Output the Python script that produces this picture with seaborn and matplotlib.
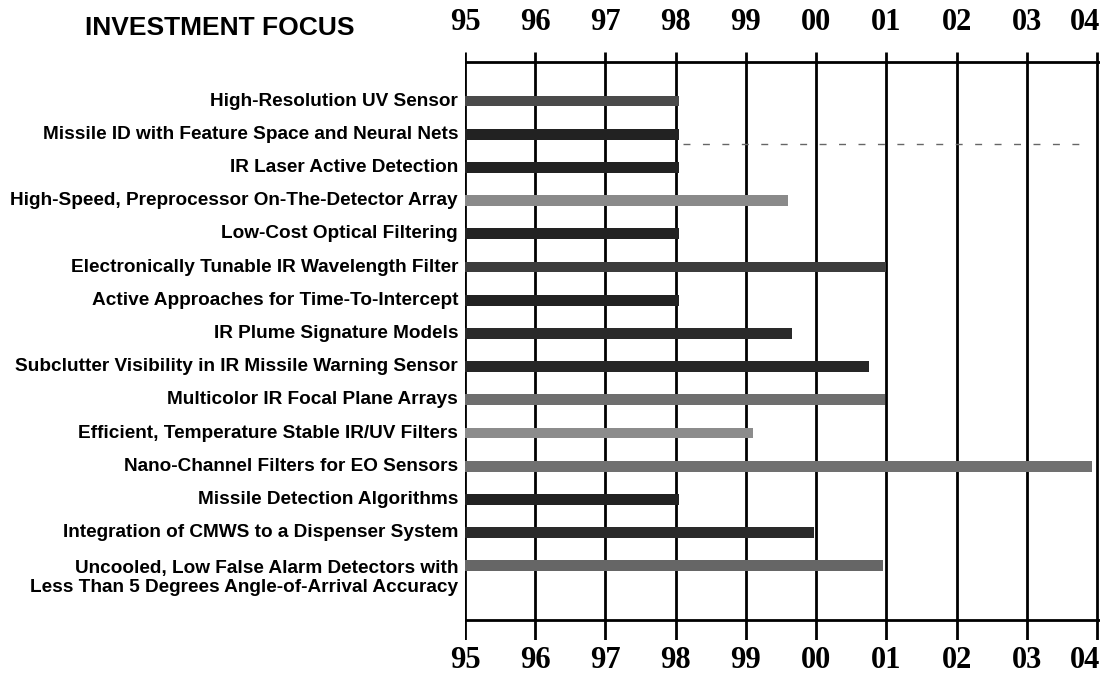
import matplotlib
matplotlib.use("Agg")
import matplotlib.pyplot as plt
import matplotlib.transforms as mtransforms
import seaborn as sns
import pandas as pd

# ---- data ----
projects = [
    "High-Resolution UV Sensor",
    "Missile ID with Feature Space and Neural Nets",
    "IR Laser Active Detection",
    "High-Speed, Preprocessor On-The-Detector Array",
    "Low-Cost Optical Filtering",
    "Electronically Tunable IR Wavelength Filter",
    "Active Approaches for Time-To-Intercept",
    "IR Plume Signature Models",
    "Subclutter Visibility in IR Missile Warning Sensor",
    "Multicolor IR Focal Plane Arrays",
    "Efficient, Temperature Stable IR/UV Filters",
    "Nano-Channel Filters for EO Sensors",
    "Missile Detection Algorithms",
    "Integration of CMWS to a Dispenser System",
    "Uncooled, Low False Alarm Detectors with\nLess Than 5 Degrees Angle-of-Arrival Accuracy",
]
start_year = [95.0] * 15
end_year = [98.05, 98.05, 98.05, 99.6, 98.05, 101.0, 98.05, 99.65,
            100.75, 100.98, 99.1, 103.92, 98.05, 99.97, 100.95]
shade = ["#4a4a4a", "#222222", "#222222", "#8a8a8a", "#222222", "#3c3c3c",
         "#222222", "#2a2a2a", "#262626", "#6e6e6e", "#8c8c8c", "#707070",
         "#222222", "#2a2a2a", "#666666"]
year_ticks = [95, 96, 97, 98, 99, 100, 101, 102, 103, 104]
year_labels = ["95", "96", "97", "98", "99", "00", "01", "02", "03", "04"]
# faint dashed continuation seen after the second bar
dash_from, dash_to = 98.1, 103.85

df = pd.DataFrame({"project": projects, "start": start_year, "end": end_year})

sns.set_theme(style="white")
plt.rcParams["font.family"] = ["Liberation Sans", "DejaVu Sans"]
plt.rcParams["text.color"] = "black"

fig = plt.figure(figsize=(11.03, 6.79), dpi=100)
ax = fig.add_axes([465 / 1103, 1 - 640 / 679, 635 / 1103, 588 / 679])

sns.barplot(data=df, y="project", x="end", hue="project", palette=shade,
            legend=False, orient="h", width=0.33, ax=ax, saturation=1,
            linewidth=0)

row_px = 33.2
ax.set_ylim((640 - 101) / row_px, (52 - 101) / row_px)
ax.set_xlim(95, 104.04)

for s in ax.spines.values():
    s.set_visible(False)

# vertical year lines
ax.vlines(year_ticks, ax.get_ylim()[1], ax.get_ylim()[0], colors="black",
          linewidth=2, zorder=0.5)
# top/bottom horizontal rules
ax.axhline((62 - 101) / row_px, color="black", linewidth=2)
ax.axhline((620 - 101) / row_px, color="black", linewidth=2)

ax.hlines(1 + 0.3, dash_from, dash_to, colors="#666666", linewidth=1,
          linestyles=(0, (5, 9)))

ax.set_xticks(year_ticks)
ax.set_xticklabels([])
ax.tick_params(axis="x", length=0)
ax.set_yticks([])
ax.set_ylabel("")
ax.set_xlabel("")

# year labels top and bottom
xtrans = mtransforms.blended_transform_factory(ax.transData, fig.transFigure)
for i, (xv, lab) in enumerate(zip(year_ticks, year_labels)):
    ha = "right" if i == len(year_ticks) - 1 else "center"
    xx = 104.04 if i == len(year_ticks) - 1 else xv
    for ypx in (23, 660):
        ax.text(xx, 1 - ypx / 679, lab, transform=xtrans, ha=ha, va="center",
                fontsize=22, fontweight="bold", family="Liberation Serif",
                color="black", clip_on=False)

trans = mtransforms.blended_transform_factory(ax.transAxes, ax.transData)
for i, name in enumerate(projects):
    y = i
    if "\n" in name:
        y = i + 0.36
    ax.text(-0.011, y, name, transform=trans, ha="right", va="center",
            fontsize=13.7, fontweight="bold", linespacing=1.15, color="black")

fig.text(220 / 1103, 1 - 28 / 679, "INVESTMENT FOCUS", ha="center",
         va="center", fontsize=19, fontweight="bold", color="black")

fig.savefig("out.png", dpi=100)
